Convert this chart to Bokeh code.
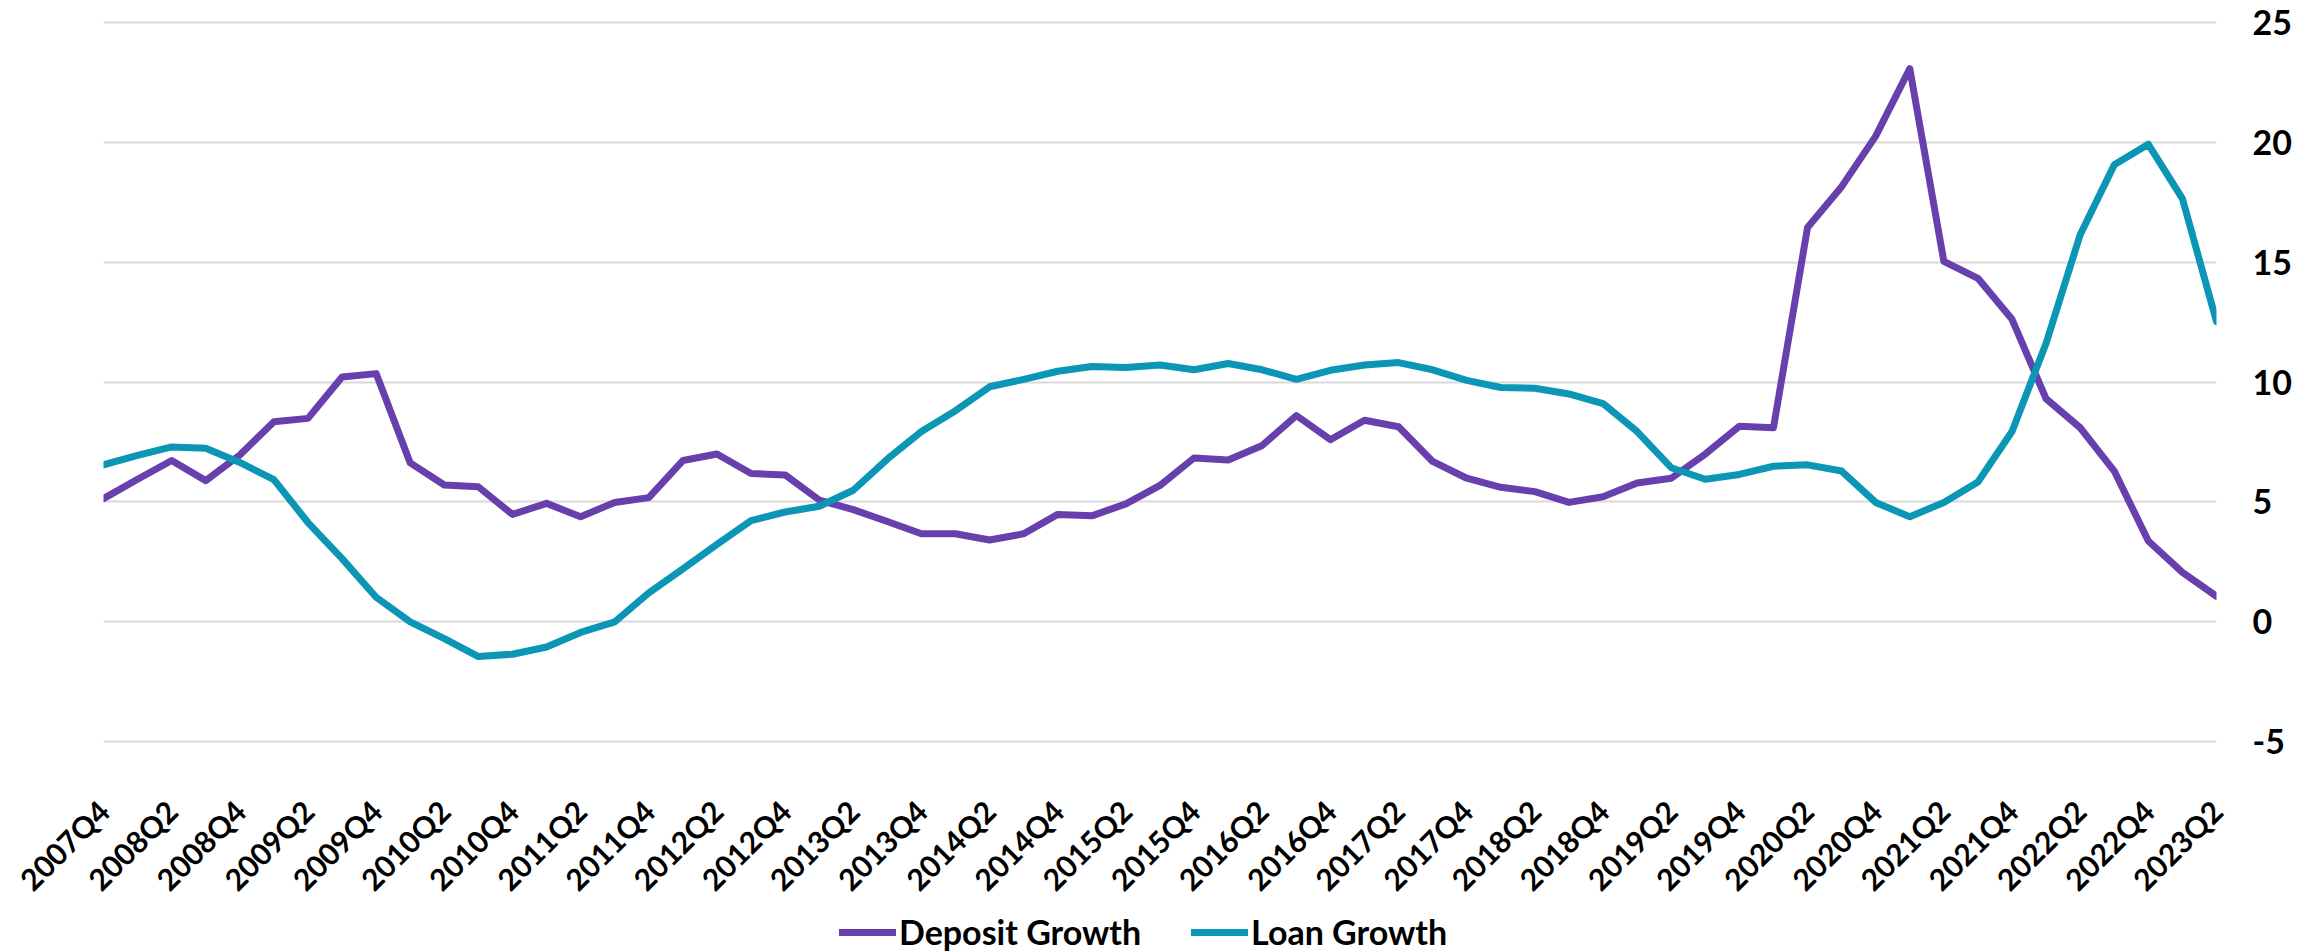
import math
from bokeh.plotting import figure
from bokeh.layouts import column
from bokeh.models import FixedTicker, Range1d, Legend, LegendItem, ColumnDataSource
from bokeh.embed import file_html
from bokeh.resources import INLINE

# ---- data ----
quarters = ["2007Q4"] + [f"{y}Q{q}" for y in range(2008, 2023) for q in (1, 2, 3, 4)] + ["2023Q1", "2023Q2"]

deposit_growth = [5.13, 5.94, 6.72, 5.88, 6.95, 8.34, 8.48, 10.21, 10.35, 6.62,
                  5.70, 5.62, 4.47, 4.93, 4.37, 4.97, 5.17, 6.72, 6.99, 6.18,
                  6.12, 5.07, 4.67, 4.17, 3.66, 3.66, 3.40, 3.66, 4.47, 4.41,
                  4.91, 5.68, 6.83, 6.74, 7.35, 8.60, 7.59, 8.40, 8.13, 6.68,
                  5.98, 5.60, 5.42, 4.97, 5.21, 5.78, 5.98, 6.99, 8.15, 8.09,
                  16.45, 18.16, 20.27, 23.09, 15.04, 14.33, 12.62, 9.30, 8.09, 6.28,
                  3.36, 2.05, 1.05]

loan_growth = [6.54, 6.93, 7.29, 7.23, 6.64, 5.92, 4.13, 2.62, 1.01, -0.02,
               -0.72, -1.47, -1.37, -1.07, -0.46, -0.02, 1.19, 2.19, 3.22, 4.21,
               4.57, 4.81, 5.48, 6.78, 7.93, 8.80, 9.80, 10.11, 10.45, 10.65,
               10.61, 10.71, 10.51, 10.77, 10.51, 10.11, 10.49, 10.71, 10.81, 10.51,
               10.07, 9.77, 9.74, 9.50, 9.10, 7.93, 6.42, 5.94, 6.14, 6.48,
               6.54, 6.28, 4.97, 4.37, 4.97, 5.82, 7.93, 11.62, 16.15, 19.07,
               19.93, 17.66, 12.52]

y_ticks = [-5, 0, 5, 10, 15, 20, 25]
y_tick_labels = ["-5", "0", "5", "10", "15", "20", "25"]
series_names = ["Deposit Growth", "Loan Growth"]
colors = ["#6840AE", "#0A96B4"]

idx = list(range(len(quarters)))
src = ColumnDataSource(dict(x=idx, deposit=deposit_growth, loan=loan_growth, q=quarters))

FONT = "Lato"
X_FS = "30px"
Y_FS = "34px"
LEG_FS = "34px"
W = 2313
MAIN_H = 912
LEG_H = 952 - MAIN_H

p = figure(width=W, height=MAIN_H, output_backend="svg", toolbar_location=None,
           x_range=Range1d(0, len(quarters) - 1), y_range=Range1d(-5.1, 25.1),
           y_axis_location="right",
           min_border_left=103, min_border_right=97, min_border_top=20,
           min_border_bottom=MAIN_H - 746)
p.outline_line_color = None
p.background_fill_color = "white"
p.border_fill_color = "white"

line_kw = dict(line_width=7, line_join="round", line_cap="round")
r1 = p.line("x", "deposit", source=src, line_color=colors[0], **line_kw)
r2 = p.line("x", "loan", source=src, line_color=colors[1], **line_kw)

xt = list(range(0, len(quarters), 2))
p.xaxis.ticker = FixedTicker(ticks=xt)
p.xaxis.major_label_overrides = {i: quarters[i] for i in xt}
p.xaxis.major_label_orientation = math.pi / 4
p.xaxis.major_label_standoff = 62
p.xaxis.major_label_text_font_size = X_FS

p.yaxis.ticker = FixedTicker(ticks=y_ticks)
p.yaxis.major_label_overrides = dict(zip(y_ticks, y_tick_labels))
p.yaxis.major_label_standoff = 36
p.yaxis.major_label_text_font_size = Y_FS

for ax in (p.xaxis, p.yaxis):
    ax.axis_line_color = None
    ax.major_tick_line_color = None
    ax.minor_tick_line_color = None
    ax.major_tick_out = 0
    ax.major_tick_in = 0
    ax.major_label_text_font = FONT
    ax.major_label_text_font_style = "bold"
    ax.major_label_text_color = "black"

p.xgrid.visible = False
p.ygrid.grid_line_color = "#D9D9D9"
p.ygrid.grid_line_width = 2

# legend strip below the chart (series lines kept out of its visible range)
lf = figure(width=W, height=LEG_H, output_backend="svg", toolbar_location=None,
            x_range=p.x_range, y_range=Range1d(100, 101),
            x_axis_type=None, y_axis_type=None, min_border=0)
lf.outline_line_color = None
lf.background_fill_color = "white"
lf.border_fill_color = "white"
l1 = lf.line("x", "deposit", source=src, line_color=colors[0], **line_kw)
l2 = lf.line("x", "loan", source=src, line_color=colors[1], **line_kw)

legend = Legend(items=[LegendItem(label=series_names[0], renderers=[l1]),
                       LegendItem(label=series_names[1], renderers=[l2])],
                orientation="horizontal", location=(736, 0),
                glyph_width=57, glyph_height=36, label_height=36,
                label_standoff=3, spacing=50, padding=0, margin=0,
                border_line_color=None, background_fill_alpha=0,
                label_text_font=FONT, label_text_font_style="bold",
                label_text_font_size=LEG_FS, label_text_color="black")
lf.add_layout(legend, "center")

layout = column(p, lf, spacing=0)
open("out.html", "w").write(file_html(layout, INLINE))
